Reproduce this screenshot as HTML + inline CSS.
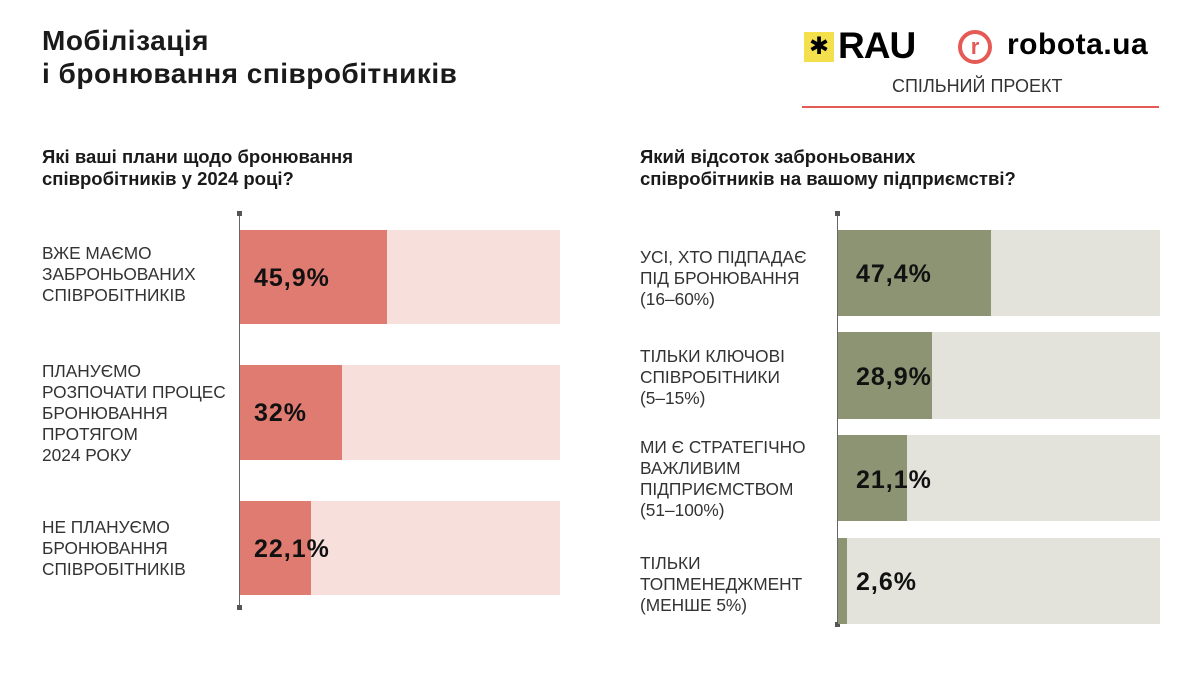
<!DOCTYPE html><html><head><meta charset="utf-8"><style>
body{margin:0;width:1200px;height:675px;background:#fff;position:relative;font-family:"Liberation Sans",sans-serif;overflow:hidden}
.a{position:absolute}
.t{font-weight:bold;color:#1a1a1a}
.lbl{font-size:17.3px;color:#333;line-height:21px;position:absolute}
.v{font-weight:900;font-size:25px;color:#111;position:absolute;letter-spacing:1px}
</style></head><body>
<div class="a t" style="left:42px;top:24px;font-size:28px;line-height:33px;letter-spacing:0.5px">Мобілізація<br>і бронювання співробітників</div>
<div class="a" style="left:804px;top:32px;width:30px;height:30px;background:#f4e04d;font-size:24px;text-align:center;line-height:30px">✱</div>
<div class="a" style="left:838px;top:25px;font-size:37px;font-weight:bold;letter-spacing:-1px">RAU</div>
<div class="a" style="left:958px;top:30px;width:26px;height:26px;border:4px solid #e55a55;border-radius:50%;color:#e55a55;font-weight:bold;text-align:center;line-height:25px;font-size:22px">r</div>
<div class="a" style="left:1007px;top:28px;font-size:30px;font-weight:900;letter-spacing:0.5px">robota.ua</div>
<div class="a" style="left:892px;top:76px;font-size:18px;color:#333">СПІЛЬНИЙ ПРОЕКТ</div>
<div class="a" style="left:802px;top:106px;width:357px;height:2px;background:#e55a55"></div>
<div class="a t" style="left:42px;top:146px;font-size:18.5px;line-height:22px">Які ваші плани щодо бронювання<br>співробітників у 2024 році?</div>
<div class="a t" style="left:640px;top:146px;font-size:18.5px;line-height:22px">Який відсоток заброньованих<br>співробітників на вашому підприємстві?</div>
<div class="a" style="left:239px;top:213px;width:1px;height:395px;background:#666"></div>
<div class="a" style="left:237px;top:211px;width:5px;height:5px;background:#555"></div>
<div class="a" style="left:237px;top:605px;width:5px;height:5px;background:#555"></div>
<div class="a" style="left:240px;top:230px;width:320px;height:94px;background:#f7e0db"></div><div class="a" style="left:240px;top:230px;width:147px;height:94px;background:#e07b72"></div>
<div class="a" style="left:240px;top:365px;width:320px;height:95px;background:#f7e0db"></div><div class="a" style="left:240px;top:365px;width:102px;height:95px;background:#e07b72"></div>
<div class="a" style="left:240px;top:501px;width:320px;height:94px;background:#f7e0db"></div><div class="a" style="left:240px;top:501px;width:71px;height:94px;background:#e07b72"></div>
<div class="v" style="left:254px;top:264px">45,9%</div><div class="v" style="left:254px;top:399px">32%</div><div class="v" style="left:254px;top:535px">22,1%</div>
<div class="lbl" style="left:42px;top:243px">ВЖЕ МАЄМО<br>ЗАБРОНЬОВАНИХ<br>СПІВРОБІТНИКІВ</div>
<div class="lbl" style="left:42px;top:361px">ПЛАНУЄМО<br>РОЗПОЧАТИ ПРОЦЕС<br>БРОНЮВАННЯ<br>ПРОТЯГОМ<br>2024 РОКУ</div>
<div class="lbl" style="left:42px;top:517px">НЕ ПЛАНУЄМО<br>БРОНЮВАННЯ<br>СПІВРОБІТНИКІВ</div>
<div class="a" style="left:837px;top:213px;width:1px;height:412px;background:#666"></div>
<div class="a" style="left:835px;top:211px;width:5px;height:5px;background:#555"></div>
<div class="a" style="left:835px;top:622px;width:5px;height:5px;background:#555"></div>
<div class="a" style="left:838px;top:230px;width:322px;height:86px;background:#e3e3dc"></div><div class="a" style="left:838px;top:230px;width:153px;height:86px;background:#8c9474"></div>
<div class="a" style="left:838px;top:332px;width:322px;height:87px;background:#e3e3dc"></div><div class="a" style="left:838px;top:332px;width:94px;height:87px;background:#8c9474"></div>
<div class="a" style="left:838px;top:435px;width:322px;height:86px;background:#e3e3dc"></div><div class="a" style="left:838px;top:435px;width:69px;height:86px;background:#8c9474"></div>
<div class="a" style="left:838px;top:538px;width:322px;height:86px;background:#e3e3dc"></div><div class="a" style="left:838px;top:538px;width:9px;height:86px;background:#8c9474"></div>
<div class="v" style="left:856px;top:260px">47,4%</div><div class="v" style="left:856px;top:363px">28,9%</div><div class="v" style="left:856px;top:466px">21,1%</div><div class="v" style="left:856px;top:568px">2,6%</div>
<div class="lbl" style="left:640px;top:247px">УСІ, ХТО ПІДПАДАЄ<br>ПІД БРОНЮВАННЯ<br>(16–60%)</div>
<div class="lbl" style="left:640px;top:346px">ТІЛЬКИ КЛЮЧОВІ<br>СПІВРОБІТНИКИ<br>(5–15%)</div>
<div class="lbl" style="left:640px;top:437px">МИ Є СТРАТЕГІЧНО<br>ВАЖЛИВИМ<br>ПІДПРИЄМСТВОМ<br>(51–100%)</div>
<div class="lbl" style="left:640px;top:553px">ТІЛЬКИ<br>ТОПМЕНЕДЖМЕНТ<br>(МЕНШЕ 5%)</div>
</body></html>
